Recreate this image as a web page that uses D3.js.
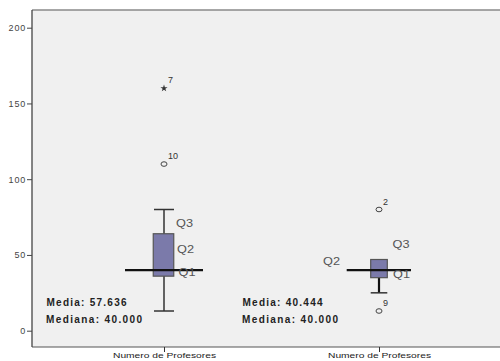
<!DOCTYPE html>
<html>
<head>
<meta charset="utf-8">
<script src="https://cdn.jsdelivr.net/npm/d3@7"></script>
<style>
  html, body { margin: 0; padding: 0; background: #fff; }
  svg { display: block; font-family: "Liberation Sans", Arial, sans-serif; }
</style>
</head>
<body>
<svg id="chart" width="500" height="361"></svg>
<script>
// Box plot data: two groups of "Numero de Profesores"
const categories = ["Numero de Profesores", "Numero de Profesores "];
const whiskerLow  = [13, 25];
const q1          = [36, 35];
const median      = [40, 40];
const q3          = [64, 47];
const whiskerHigh = [80, 47];
const outlierValues = [[110, 160], [80, 13]];
const outlierIds    = [["10", "7"], ["2", "9"]];
const outlierKinds  = [["circle", "star"], ["circle", "circle"]];
const means   = ["57.636", "40.444"];
const medians = ["40.000", "40.000"];
const yTicks = [0, 50, 100, 150, 200];

const svg = d3.select("#chart");
const plot = { left: 32, top: 10, right: 500, bottom: 347 };

const y = d3.scaleLinear().domain([0, 200]).range([330.7, 27.7]);
const x = d3.scalePoint().domain(categories).range([164, 379]);

// Plot background
svg.append("rect")
  .attr("x", plot.left).attr("y", plot.top)
  .attr("width", plot.right - plot.left).attr("height", plot.bottom - plot.top)
  .attr("fill", "#f0f0f0");

// Frame lines
svg.append("line").attr("x1", plot.left).attr("x2", plot.right)
  .attr("y1", plot.top).attr("y2", plot.top)
  .attr("stroke", "#8a8a8a").attr("stroke-width", 1.5);
svg.append("line").attr("x1", plot.left).attr("x2", plot.right)
  .attr("y1", plot.bottom).attr("y2", plot.bottom)
  .attr("stroke", "#555").attr("stroke-width", 1.2);

// Y axis
const yAxis = d3.axisLeft(y).tickValues(yTicks).tickSize(5).tickPadding(1);
const gy = svg.append("g").attr("transform", `translate(${plot.left},0)`).call(yAxis);
gy.select(".domain").remove();
gy.append("line").attr("x1", 0).attr("x2", 0).attr("y1", plot.top).attr("y2", plot.bottom)
  .attr("stroke", "#444").attr("stroke-width", 1.3);
gy.selectAll(".tick line").attr("stroke", "#444");
gy.selectAll(".tick text").attr("fill", "#444").style("font-size", "9px")
  .style("letter-spacing", "0.8px");

// X axis
const xAxis = d3.axisBottom(x).tickSize(5).tickPadding(0);
const gx = svg.append("g").attr("transform", `translate(0,${plot.bottom})`).call(xAxis);
gx.select(".domain").remove();
gx.selectAll(".tick line").attr("stroke", "#333");
gx.selectAll(".tick text").attr("fill", "#222").style("font-size", "8px")
  .attr("textLength", 103).attr("lengthAdjust", "spacingAndGlyphs");

const boxW = 20;
const groups = categories.map((c, i) => ({ c, i }));

const g = svg.append("g");
groups.forEach(({ c, i }) => {
  const cx = x(c);
  // whisker stem
  g.append("line").attr("x1", cx).attr("x2", cx)
    .attr("y1", y(whiskerLow[i])).attr("y2", y(whiskerHigh[i]))
    .attr("stroke", i === 0 ? "#333" : "#111").attr("stroke-width", i === 0 ? 1.5 : 2.2);
  // whisker caps
  [whiskerLow[i], whiskerHigh[i]].forEach(v => {
    if (v === q3[i] && i === 1) return;
    g.append("line").attr("x1", cx - boxW / 2 + (i ? 1.7 : 0)).attr("x2", cx + boxW / 2 - (i ? 1.7 : 0))
      .attr("y1", y(v)).attr("y2", y(v))
      .attr("stroke", "#333").attr("stroke-width", 1.5);
  });
  // box
  const w = i === 0 ? 20.5 : 16.6;
  g.append("rect")
    .attr("x", cx - w / 2 + (i === 0 ? -0.5 : 0)).attr("width", w)
    .attr("y", y(q3[i])).attr("height", y(q1[i]) - y(q3[i]))
    .attr("fill", "#7b7aaa").attr("stroke", "#555").attr("stroke-width", 1.2);
});

// Median reference lines
const medianSpan = [[125, 203], [346.7, 411]];
groups.forEach(({ i }) => {
  g.append("line").attr("x1", medianSpan[i][0]).attr("x2", medianSpan[i][1])
    .attr("y1", y(median[i])).attr("y2", y(median[i]))
    .attr("stroke", "#111").attr("stroke-width", 2.4);
});

// Outliers
const star = d3.symbol().type(d3.symbolStar).size(16);
groups.forEach(({ c, i }) => {
  const cx = x(c);
  outlierValues[i].forEach((v, k) => {
    if (outlierKinds[i][k] === "star") {
      g.append("path").attr("d", star()).attr("transform", `translate(${cx},${y(v)})`)
        .attr("fill", "#333");
    } else {
      g.append("ellipse").attr("cx", cx).attr("cy", y(v)).attr("rx", 3).attr("ry", 2.3)
        .attr("fill", "none").attr("stroke", "#444").attr("stroke-width", 1);
    }
    g.append("text").attr("x", cx + 4).attr("y", y(v) - 5)
      .attr("fill", "#333").style("font-size", "9px").text(outlierIds[i][k]);
  });
});

// Quartile annotations
const qLabels = [
  [["Q3", 176, 226.5], ["Q2", 177, 253], ["Q1", 178.5, 276]],
  [["Q3", 392.5, 248], ["Q2", 323, 265], ["Q1", 393, 278]]
];
qLabels.forEach(set => set.forEach(([t, lx, ly]) => {
  svg.append("text").attr("x", lx).attr("y", ly).attr("fill", "#555")
    .style("font-size", "11px").attr("textLength", 17).attr("lengthAdjust", "spacingAndGlyphs")
    .text(t);
}));

// Mean / median statistics
const statX = [46.5, 242.5];
groups.forEach(({ i }) => {
  svg.append("text").attr("x", statX[i]).attr("y", 305.5).attr("fill", "#222")
    .style("font-size", "10px").style("font-weight", "bold")
    .attr("textLength", 80).attr("lengthAdjust", "spacing")
    .text("Media: " + means[i]);
  svg.append("text").attr("x", statX[i] - 0.5).attr("y", 322.5).attr("fill", "#222")
    .style("font-size", "10px").style("font-weight", "bold")
    .attr("textLength", 96).attr("lengthAdjust", "spacing")
    .text("Mediana: " + medians[i]);
});
</script>
</body>
</html>
